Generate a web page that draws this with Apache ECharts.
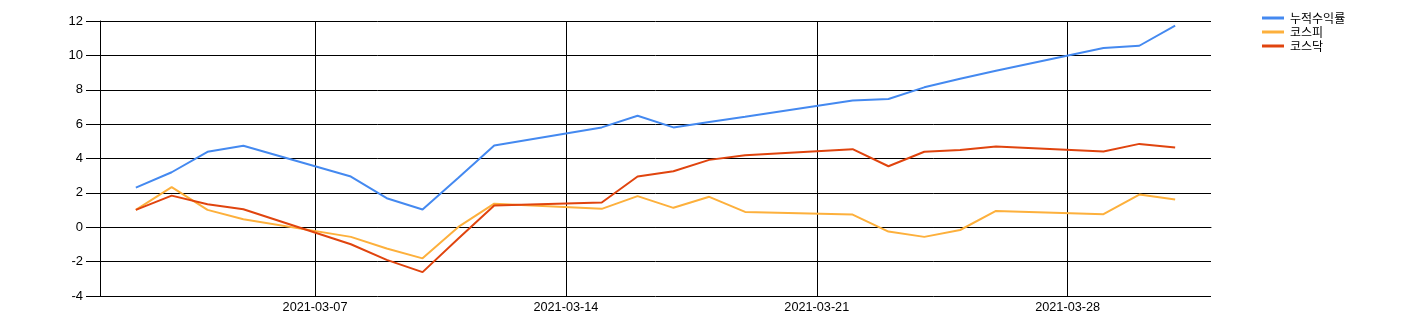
<!DOCTYPE html>
<html>
<head>
<meta charset="utf-8">
<script src="https://cdn.jsdelivr.net/npm/echarts@6/dist/echarts.min.js"></script>
<style>html,body{margin:0;padding:0;background:#fff;}#c{width:1408px;height:335px;}</style>
</head>
<body>
<div id="c"></div>
<script>
const seriesNames = ['누적수익률', '코스피', '코스닥'];
const tradingDates = ['2021-03-02','2021-03-03','2021-03-04','2021-03-05','2021-03-08','2021-03-09','2021-03-10','2021-03-11','2021-03-12','2021-03-15','2021-03-16','2021-03-17','2021-03-18','2021-03-19','2021-03-22','2021-03-23','2021-03-24','2021-03-25','2021-03-26','2021-03-29','2021-03-30','2021-03-31'];
const cumReturn = [2.31, 3.20, 4.39, 4.74, 2.95, 1.69, 1.03, 2.88, 4.75, 5.81, 6.49, 5.81, 6.12, 6.43, 7.38, 7.46, 8.14, 8.64, 9.11, 10.43, 10.56, 11.73];
const kospi = [1.01, 2.33, 1.01, 0.47, -0.56, -1.24, -1.81, 0.02, 1.37, 1.07, 1.81, 1.13, 1.77, 0.89, 0.74, -0.25, -0.56, -0.16, 0.95, 0.76, 1.90, 1.61];
const kosdaq = [1.01, 1.84, 1.34, 1.05, -0.99, -1.90, -2.61, -0.66, 1.27, 1.44, 2.95, 3.26, 3.92, 4.19, 4.54, 3.55, 4.39, 4.50, 4.70, 4.41, 4.85, 4.64];
const axisStart = '2021-03-01';
const axisEnd = '2021-04-01';
const weekTickLabels = ['2021-03-07','2021-03-14','2021-03-21','2021-03-28'];
const yTicks = { min: -4, max: 12, interval: 2 };
const colors = ['#4489f0', '#fdb03c', '#e0440e'];

// build full calendar category axis
function fmt(d){ const m = String(d.getUTCMonth()+1).padStart(2,'0'); const dd = String(d.getUTCDate()).padStart(2,'0'); return d.getUTCFullYear()+'-'+m+'-'+dd; }
const days = [];
for (let d = new Date(axisStart+'T00:00:00Z'); d <= new Date(axisEnd+'T00:00:00Z'); d = new Date(d.getTime()+86400000)) days.push(fmt(d));
function toAxis(vals){ const map = {}; tradingDates.forEach((t,i)=>map[t]=vals[i]); return days.map(d => (d in map) ? map[d] : null); }
const showWeek = (idx, val) => weekTickLabels.indexOf(val) >= 0;

const chart = echarts.init(document.getElementById('c'), null, {renderer:'canvas'});
chart.setOption({
  animation: false,
  color: colors,
  grid: { left: 100, right: 197, top: 21, bottom: 39, containLabel: false },
  legend: {
    orient: 'vertical', left: 1257, top: 7, itemGap: 2, padding: 5,
    itemWidth: 22, itemHeight: 3, icon: 'rect',
    textStyle: { fontFamily: 'Noto Sans CJK KR', fontSize: 12, color: '#000', lineHeight: 12, padding: [0,0,0,1] },
    data: seriesNames
  },
  xAxis: {
    type: 'category', data: days, boundaryGap: false,
    axisLine: { show: true, lineStyle: { color: '#000', width: 1 } },
    axisTick: { show: true, length: 4, interval: showWeek, lineStyle: { color: '#000' } },
    axisLabel: { interval: showWeek, margin: 5, color: '#000', fontSize: 12.7, fontFamily: 'Liberation Sans' },
    splitLine: { show: true, interval: showWeek, lineStyle: { color: '#000', width: 1 } }
  },
  yAxis: {
    type: 'value', min: yTicks.min, max: yTicks.max, interval: yTicks.interval,
    axisLine: { show: true, lineStyle: { color: '#000', width: 1 } },
    axisTick: { show: true, length: 14, lineStyle: { color: '#000' } },
    axisLabel: { margin: 17, color: '#000', fontSize: 13, fontFamily: 'Liberation Sans' },
    splitLine: { show: true, lineStyle: { color: '#000', width: 1 } }
  },
  series: [
    { name: seriesNames[0], type: 'line', data: toAxis(cumReturn), connectNulls: true, showSymbol: false, symbol: 'none', lineStyle: { width: 2 } },
    { name: seriesNames[1], type: 'line', data: toAxis(kospi), connectNulls: true, showSymbol: false, symbol: 'none', lineStyle: { width: 2 } },
    { name: seriesNames[2], type: 'line', data: toAxis(kosdaq), connectNulls: true, showSymbol: false, symbol: 'none', lineStyle: { width: 2 } }
  ]
});
</script>
</body>
</html>
